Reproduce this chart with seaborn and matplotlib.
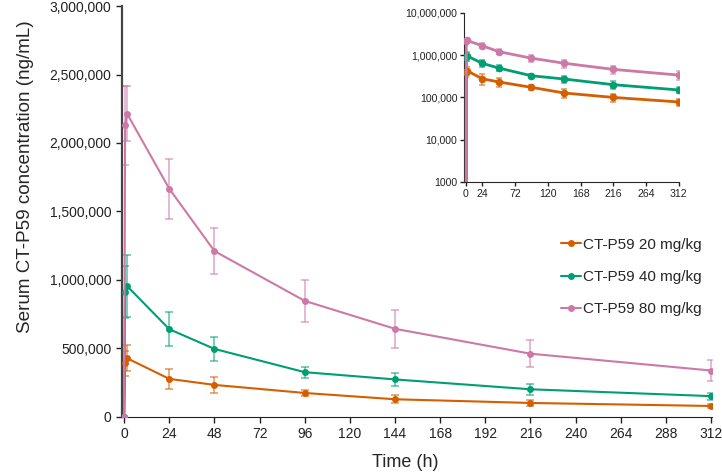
import matplotlib
matplotlib.use("Agg")
import matplotlib.pyplot as plt
import matplotlib.ticker as mticker
import numpy as np
import pandas as pd
import seaborn as sns

# ---- data (mean ± SD) ----
time_h = [0, 0.5, 1.5, 24, 48, 96, 144, 216, 312]
groups = ["CT-P59 20 mg/kg", "CT-P59 40 mg/kg", "CT-P59 80 mg/kg"]
mean_20 = [0, 390000, 427000, 276000, 232000, 173000, 127000, 100000, 78000]
sd_20 = [0, 90000, 94000, 75000, 60000, 25000, 30000, 20000, 15000]
mean_40 = [0, 914000, 955000, 639000, 495000, 325000, 272000, 200000, 150000]
sd_40 = [0, 190000, 225000, 125000, 85000, 40000, 50000, 40000, 25000]
mean_80 = [0, 2130000, 2215000, 1665000, 1210000, 846000, 642000, 460000, 337000]
sd_80 = [0, 290000, 200000, 220000, 170000, 155000, 140000, 100000, 75000]
main_xticks = [0, 24, 48, 72, 96, 120, 144, 168, 192, 216, 240, 264, 288, 312]
inset_xticks = [0, 24, 72, 120, 168, 216, 264, 312]
inset_yticks = [1000, 10000, 100000, 1000000, 10000000]

colors = ["#D55E00", "#009E73", "#CC79A7"]
means = [mean_20, mean_40, mean_80]
sds = [sd_20, sd_40, sd_80]

df = pd.concat([
    pd.DataFrame({"time": time_h, "conc": m, "sd": s, "group": g})
    for g, m, s in zip(groups, means, sds)
], ignore_index=True)

sns.set_style("ticks")
plt.rcParams["font.family"] = ["Liberation Sans", "DejaVu Sans"]

fig = plt.figure(figsize=(7.22, 4.74), dpi=100)
ax = fig.add_axes([0.1686, 0.121, 0.8175, 0.866])

sns.lineplot(data=df, x="time", y="conc", hue="group", palette=colors,
             marker="o", markersize=5, markeredgewidth=0, linewidth=1.5,
             ax=ax, legend=True, zorder=3)
for g, c in zip(groups, colors):
    sub = df[df.group == g]
    ax.errorbar(sub.time, sub.conc, yerr=sub.sd, fmt="none", ecolor=c,
                alpha=0.6, elinewidth=1.2, capsize=3, capthick=1.2, zorder=2)

ax.set_xlim(-1.3, 312.5)
ax.set_ylim(0, 3000000)
ax.set_xticks(main_xticks)
ax.set_yticks(np.arange(0, 3000001, 500000))
ax.yaxis.set_major_formatter(mticker.FuncFormatter(lambda v, p: f"{int(v):,}"))
ax.tick_params(labelsize=10, length=4, width=1, colors="#222222")
for side in ["top", "right"]:
    ax.spines[side].set_visible(False)
ax.spines["left"].set_color("#444444")
ax.spines["left"].set_linewidth(1.6)
ax.spines["bottom"].set_color("#222222")
ax.set_xlabel("Time (h)", fontsize=13)
ax.set_ylabel("Serum CT-P59 concentration (ng/mL)", fontsize=13.6)
ax.xaxis.set_label_coords(0.48, -0.09)
ax.yaxis.set_label_coords(-0.148, 0.585)

leg = ax.legend(loc="center left", bbox_to_anchor=(555 / 722, 1 - 277 / 474),
                bbox_transform=fig.transFigure, borderaxespad=0,
                frameon=False, fontsize=11, handlelength=1.3,
                handletextpad=0.15, labelspacing=1.2)

# ---- inset (log scale) ----
axi = fig.add_axes([0.643, 0.616, 0.298, 0.357])
for g, c in zip(groups, colors):
    sub = df[df.group == g]
    axi.errorbar(sub.time, sub.conc, yerr=sub.sd, fmt="none", ecolor=c,
                 alpha=0.6, elinewidth=1.2, capsize=2.5, capthick=1.2, zorder=2)
sns.lineplot(data=df, x="time", y="conc", hue="group", palette=colors,
             marker="o", markersize=5.5, markeredgewidth=0, linewidth=2,
             ax=axi, legend=False, zorder=3)
axi.set_yscale("log")
axi.set_ylim(1000, 10000000)
axi.set_xlim(-2.5, 313)
axi.set_xticks(inset_xticks)
axi.set_yticks(inset_yticks)
axi.yaxis.set_major_formatter(mticker.FuncFormatter(
    lambda v, p: "1000" if v == 1000 else f"{int(v):,}"))
axi.yaxis.set_minor_locator(mticker.NullLocator())
axi.tick_params(labelsize=7.6, length=3, width=1, colors="#222222", pad=2)
axi.set_xlabel("")
axi.set_ylabel("")
for side in ["top", "right"]:
    axi.spines[side].set_visible(False)
axi.patch.set_alpha(0)

fig.savefig("out.png", dpi=100)
